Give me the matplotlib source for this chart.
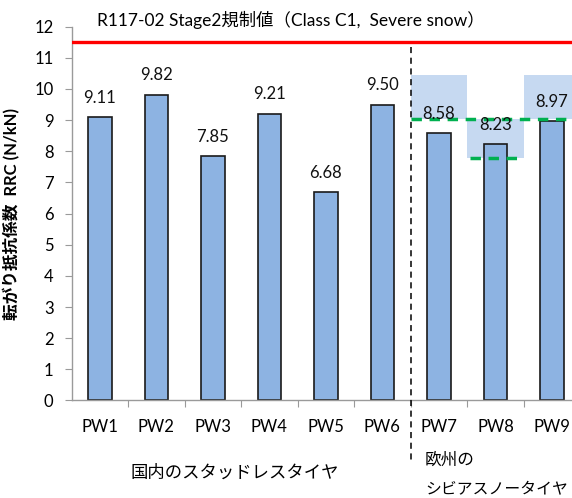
import matplotlib
matplotlib.use("Agg")
import matplotlib.pyplot as plt
from matplotlib.patches import Rectangle

plt.rcParams['font.family'] = ['Lato', 'Noto Sans CJK JP', 'DejaVu Sans']

categories = ["PW1", "PW2", "PW3", "PW4", "PW5", "PW6", "PW7", "PW8", "PW9"]
values = [9.11, 9.82, 7.85, 9.21, 6.68, 9.50, 8.58, 8.23, 8.97]
value_labels = ["9.11", "9.82", "7.85", "9.21", "6.68", "9.50", "8.58", "8.23", "8.97"]
limit_value = 11.5
limit_text = "R117-02 Stage2規制値（Class C1,  Severe snow）"
# shaded ranges for European severe-snow tyres: (category index, low, high)
range_idx = [6, 7, 8]
range_low = [9.05, 7.80, 9.05]
range_high = [10.46, 9.05, 10.46]
green_upper = 9.05
green_lower = 7.77
yticks = list(range(0, 13))
ylabel = "転がり抵抗係数  RRC (N/kN)"
group1 = "国内のスタッドレスタイヤ"
group2_line1 = "欧州の"
group2_line2 = "シビアスノータイヤ"

fig = plt.figure(figsize=(5.72, 4.98), dpi=100)
ax = fig.add_axes([0.1253, 0.1958, 0.8747, 0.7506])
ax.set_xlim(-0.5, 8.355)
ax.set_ylim(0, 12)

x = list(range(len(categories)))

for i, lo, hi in zip(range_idx, range_low, range_high):
    ax.add_patch(Rectangle((i - 0.5, lo), 1.0, hi - lo, facecolor="#c6d9f1",
                           edgecolor="none", zorder=1))

bars = ax.bar(x, values, width=0.41, color="#8db3e2", edgecolor="#1a1a1a",
              linewidth=1.2, zorder=2)

for xi, v, lab in zip(x, values, value_labels):
    ax.annotate(lab, (xi, v), xytext=(0, 8), textcoords="offset points",
                ha="center", va="bottom", fontsize=12, color="#111111", zorder=4)

ax.plot([5.5, 8.355], [green_upper, green_upper], color="#00b050", lw=2.5,
        ls=(0, (3, 2.2)), zorder=3, clip_on=False)
ax.plot([6.55, 7.38], [green_lower, green_lower], color="#00b050", lw=2.5,
        ls=(0, (3, 2.2)), zorder=3)

ax.axhline(limit_value, color="#ff0000", lw=2.4, zorder=3)

# divider between groups (extends below axis)
ax.plot([5.5, 5.5], [11.35, -1.95], color="black", lw=1.1, ls=(0, (4, 3)),
        clip_on=False, zorder=3)

for s in ["top", "right"]:
    ax.spines[s].set_visible(False)
for s in ["left", "bottom"]:
    ax.spines[s].set_color("#9a9a9a")
    ax.spines[s].set_linewidth(1.0)

ax.set_yticks(yticks)
ax.set_yticklabels([str(t) for t in yticks], fontsize=12)
ax.tick_params(axis="y", length=5, color="#9a9a9a", pad=8)

ax.set_xticks([i + 0.5 for i in range(len(categories) - 1)])
ax.set_xticklabels([])
ax.tick_params(axis="x", which="major", length=5, color="#9a9a9a")
ax.set_xticks(x, minor=True)
ax.set_xticklabels(categories, minor=True, fontsize=12)
ax.tick_params(axis="x", which="minor", length=0, pad=13)

ax.set_ylabel(ylabel, fontsize=12, fontweight="bold", labelpad=10)

fig.text(97 / 572, 1 - 20 / 498, limit_text, fontsize=12.5, ha="left", va="center")
fig.text(235 / 572, 1 - 473 / 498, group1, fontsize=12.5, ha="center", va="center")
fig.text(425 / 572, 1 - 460 / 498, group2_line1, fontsize=12, ha="left", va="center")
fig.text(425 / 572, 1 - 489 / 498, group2_line2, fontsize=11.4, ha="left", va="center")

fig.savefig("out.png", dpi=100)
